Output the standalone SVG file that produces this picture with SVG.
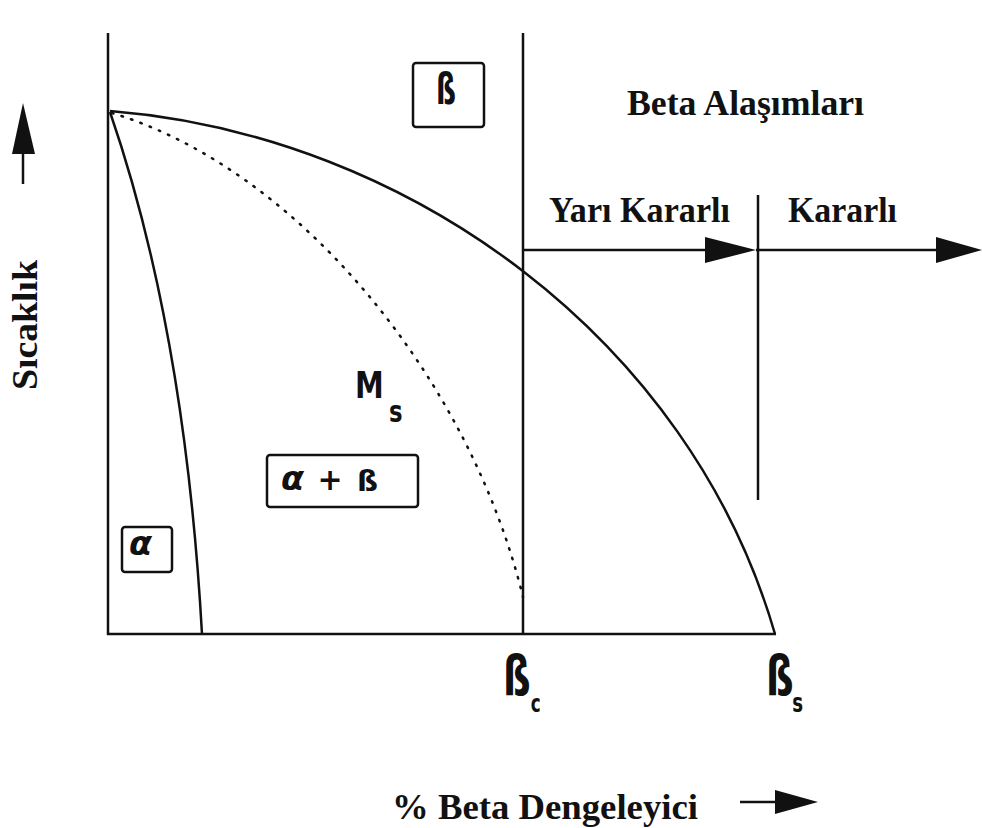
<svg xmlns="http://www.w3.org/2000/svg" width="982" height="828" viewBox="0 0 982 828">
<style>
.ln{fill:none;stroke:#111;stroke-width:2.5}
.box{fill:#fff;stroke:#111;stroke-width:2.5}
.sym{font-family:"DejaVu Sans","Liberation Sans",sans-serif;font-weight:bold;fill:#111}
.ser{font-family:"Liberation Serif","DejaVu Serif",serif;font-weight:bold;fill:#111}
.arr{fill:#111}
</style>
<rect width="982" height="828" fill="#fff"/>
<g id="axes">
<line class="ln" x1="108" y1="33" x2="108" y2="635"/>
<line class="ln" x1="107" y1="634" x2="776" y2="634"/>
</g>
<g id="connectors">
<path id="beta-transus" class="ln" d="M110,111 C410,135 690,340 775,634"/>
<path id="ms-curve" class="ln" d="M112,113 C300,170 470,380 523,597" stroke-dasharray="1.5,8.5" stroke-linecap="round" stroke-width="4.5"/>
<path id="alpha-boundary" class="ln" d="M110,112 Q185,330 202,634"/>
<line id="beta-c-line" class="ln" x1="523" y1="33" x2="523" y2="634"/>
<line id="split-line" class="ln" x1="758" y1="195" x2="758" y2="500"/>
<line class="ln" x1="523" y1="250" x2="710" y2="250"/>
<polygon class="arr" points="705,237 756,250 705,263"/>
<line class="ln" x1="756" y1="250" x2="940" y2="250"/>
<polygon class="arr" points="936,237 982,250 936,263"/>
<line class="ln" x1="23" y1="150" x2="23" y2="184"/>
<polygon class="arr" points="12,154 23,103 35,154"/>
<line class="ln" x1="740" y1="802" x2="780" y2="802"/>
<polygon class="arr" points="775,790 818,802 775,814"/>
</g>
<g id="beta-region">
<rect class="box" x="413" y="63" width="71" height="64" rx="3"/>
<text class="sym" x="436" y="104" font-size="42" textLength="20" lengthAdjust="spacingAndGlyphs">ß</text>
</g>
<g id="alpha-region">
<rect class="box" x="122" y="527" width="50" height="45" rx="3"/>
<text class="sym" x="129" y="555" font-size="34" font-style="italic" textLength="23" lengthAdjust="spacingAndGlyphs">α</text>
</g>
<g id="alpha-beta-region">
<rect class="box" x="267" y="455" width="151" height="52" rx="3"/>
<text class="sym" x="281" y="490" font-size="34" font-style="italic" textLength="23" lengthAdjust="spacingAndGlyphs">α</text>
<text class="sym" x="330" y="490" font-size="30" text-anchor="middle">+</text>
<text class="sym" x="357" y="491" font-size="29" textLength="21" lengthAdjust="spacingAndGlyphs">ß</text>
</g>
<g id="ms-label">
<text class="sym" font-size="38" transform="translate(355,398) scale(0.76,1)">M<tspan dx="7" dy="24" font-size="30">s</tspan></text>
</g>
<g id="beta-c-label">
<text class="sym" font-size="55" transform="translate(503,695) scale(0.7,1)">ß<tspan dx="0" dy="17" font-size="24">c</tspan></text>
</g>
<g id="beta-s-label">
<text class="sym" font-size="55" transform="translate(766,695) scale(0.7,1)">ß<tspan dx="-2" dy="17" font-size="26">s</tspan></text>
</g>
<g id="titles">
<text class="ser" x="627" y="115" font-size="35" textLength="237" lengthAdjust="spacingAndGlyphs">Beta Alaşımları</text>
<text class="ser" x="549" y="222" font-size="35" textLength="181" lengthAdjust="spacingAndGlyphs">Yarı Kararlı</text>
<text class="ser" x="788" y="222" font-size="35" textLength="109" lengthAdjust="spacingAndGlyphs">Kararlı</text>
<text class="ser" x="392" y="819" font-size="36" textLength="306" lengthAdjust="spacingAndGlyphs">% Beta Dengeleyici</text>
<text class="ser" x="0" y="0" font-size="35" text-anchor="middle" textLength="130" lengthAdjust="spacingAndGlyphs" transform="translate(37,325) rotate(-90)">Sıcaklık</text>
</g>
</svg>
